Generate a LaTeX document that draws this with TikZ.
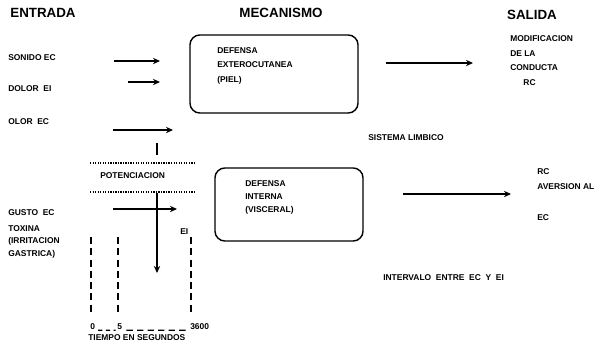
\documentclass[tikz,border=0pt]{standalone}
\usepackage{fontspec}
\setmainfont{Liberation Sans}
\usetikzlibrary{arrows.meta, positioning}

\tikzset{
  lbl/.style={font=\fontsize{6}{7}\selectfont\bfseries, inner sep=0pt, anchor=west},
  head/.style={font=\fontsize{9.5}{11}\selectfont\bfseries, inner sep=0pt},
  mbox/.style={draw, line width=1pt, rounded corners=7pt, inner sep=0pt},
  flecha/.style={line width=0.9pt, -{Stealth[length=5pt,width=4.5pt]}},
  puntos/.style={line width=0.9pt, dash pattern=on 0.9pt off 0.9pt},
  tiempo/.style={line width=0.8pt, dash pattern=on 5pt off 3pt},
}

\begin{document}
\begin{tikzpicture}[x=0.025cm, y=-0.025cm]
    \useasboundingbox (0,0) rectangle (600,343);

    % Encabezados
    \node[head] (entrada) at (43,13) {ENTRADA};
    \node[head] (mecanismo) at (281,13) {MECANISMO};
    \node[head] (salida) at (532,15) {SALIDA};

    % Estimulos de entrada
    \node[lbl] (sonido) at (8,58) {SONIDO EC};
    \node[lbl] (dolor) at (8,89) {DOLOR\ \ EI};
    \node[lbl] (olor) at (8,122) {OLOR\ \ EC};
    \node[lbl] (gusto) at (8,213) {GUSTO\ \ EC};
    \node[lbl, anchor=north west, align=left, font=\fontsize{6}{9}\selectfont\bfseries] (toxina) at (8,225)
        {TOXINA\\(IRRITACION\\GASTRICA)};

    % Mecanismos
    \node[mbox, minimum width=4.2cm, minimum height=1.95cm] (piel) at (274,74) {};
    \node[lbl, anchor=north west, align=left, font=\fontsize{6}{10.5}\selectfont\bfseries] (defext) at (217,47)
        {DEFENSA\\EXTEROCUTANEA\\(PIEL)};
    \node[mbox, minimum width=3.7cm, minimum height=1.825cm] (visceral) at (289,204.5) {};
    \node[lbl, anchor=north west, align=left, font=\fontsize{6}{9.5}\selectfont\bfseries] (defint) at (245,180)
        {DEFENSA\\INTERNA\\(VISCERAL)};
    \node[lbl] (limbico) at (368,138) {SISTEMA LIMBICO};

    % Salidas
    \node[lbl, anchor=north west, align=left, font=\fontsize{6}{10.6}\selectfont\bfseries] (modif) at (510,35)
        {MODIFICACION\\DE LA\\CONDUCTA\\\hspace{0.33cm}RC};
    \node[lbl] (rc) at (537,172) {RC};
    \node[lbl] (aversion) at (537,187) {AVERSION AL};
    \node[lbl] (ec) at (537,218) {EC};
    \node[lbl] (intervalo) at (383,278) {INTERVALO\ \ ENTRE\ \ EC\ \ Y\ \ EI};

    % Potenciacion
    \node[lbl] (potenc) at (100,176) {POTENCIACION};
    \node[lbl] (ei) at (180,232) {EI};
    \draw[puntos] (90,163) coordinate (p1) -- (195,163) coordinate (p2);
    \draw[puntos] (90,192) coordinate (p3) -- (195,192) coordinate (p4);

    % Flechas
    \coordinate (s1) at (114,61);  \coordinate (e1) at (160,61);
    \coordinate (s2) at (128,82);  \coordinate (e2) at (160,82);
    \coordinate (s3) at (113,130); \coordinate (e3) at (173,130);
    \coordinate (s4) at (113,209); \coordinate (e4) at (177,209);
    \coordinate (s5) at (386,63);  \coordinate (e5) at (473,63);
    \coordinate (s6) at (403,194); \coordinate (e6) at (511,194);
    \coordinate (t1) at (157,143); \coordinate (t2) at (157,155);
    \coordinate (v1) at (157,193); \coordinate (v2) at (157,273);
    \draw[flecha] (s1) -- (e1);
    \draw[flecha] (s2) -- (e2);
    \draw[flecha] (s3) -- (e3);
    \draw[flecha] (s4) -- (e4);
    \draw[flecha] (s5) -- (e5);
    \draw[flecha] (s6) -- (e6);
    \draw[line width=0.9pt] (t1) -- (t2);
    \draw[flecha] (v1) -- (v2);

    % Escala de tiempo
    \node[lbl] (cero) at (90,327) {0};
    \node[lbl] (cinco) at (117,327) {5};
    \node[lbl] (fin) at (190,327) {3600};
    \draw[tiempo] (91,237) -- (91,312);
    \draw[tiempo] (118,237) -- (118,312);
    \draw[tiempo] (191,237) -- (191,313);
    \draw[line width=0.8pt, dash pattern=on 3pt off 2.5pt] ([xshift=2pt]cero.south east) -- ([xshift=-1pt]cinco.south west);
    \draw[line width=0.8pt, dash pattern=on 4.5pt off 3pt] ([xshift=3pt]cinco.south east) -- ([xshift=-2pt]fin.south west);
    \node[lbl] (tiempo) at (88,338) {TIEMPO EN SEGUNDOS};
\end{tikzpicture}
\end{document}
